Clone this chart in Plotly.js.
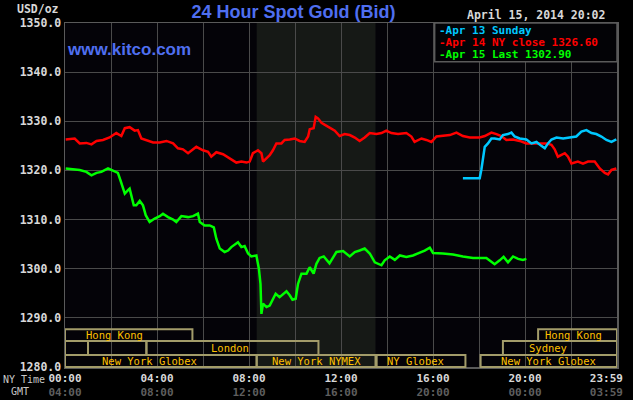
<!DOCTYPE html>
<html>
<head>
<meta charset="utf-8">
<script src="https://cdn.plot.ly/plotly-3.0.1.min.js"></script>
<style>html,body{margin:0;padding:0;background:#000;}#chart{width:633px;height:400px;}</style>
</head>
<body>
<div id="chart"></div>
<script>
// ---- data (NY time in hours, price USD/oz) ----
const redHours = [0.03,0.42,0.64,0.93,1.15,1.37,1.65,1.94,2.23,2.45,2.6,2.81,3.03,3.17,3.32,3.54,3.83,4.12,4.41,4.70,4.91,5.13,5.35,5.57,5.71,6.0,6.22,6.36,6.58,6.87,7.16,7.45,7.67,7.89,8.03,8.17,8.39,8.54,8.61,8.76,8.9,9.04,9.19,9.41,9.55,9.77,9.99,10.2,10.42,10.57,10.64,10.81,10.9,11.0,11.15,11.43,11.73,11.94,12.16,12.38,12.6,12.81,13.03,13.25,13.54,13.76,13.97,14.19,14.48,14.84,15.06,15.2,15.5,15.71,15.93,16.15,16.43,16.73,17.02,17.3,17.6,18.03,18.25,18.54,18.76,18.97,19.19,19.48,19.77,20.06,20.35,20.64,20.93,21.15,21.29,21.43,21.58,21.73,21.87,22.02,22.30,22.52,22.74,23.03,23.25,23.47,23.61,23.76,23.97];
const redPrices = [1326.3,1326.5,1325.5,1325.6,1325.3,1326.0,1326.2,1326.7,1327.6,1327.0,1328.6,1328.8,1328.1,1328.2,1326.5,1326.2,1325.7,1325.7,1326.0,1325.5,1324.5,1324.3,1323.5,1324.3,1324.8,1324.1,1323.8,1322.8,1323.7,1323.3,1322.4,1321.6,1321.8,1321.6,1321.8,1323.5,1324.1,1323.5,1321.8,1322.4,1323.1,1324.1,1325.5,1325.5,1326.2,1326.3,1326.5,1326.0,1325.8,1326.9,1328.4,1328.6,1330.9,1330.6,1329.7,1328.9,1328.1,1327.0,1327.4,1327.2,1326.7,1326.0,1326.7,1327.6,1327.4,1327.6,1328.1,1327.6,1327.4,1327.6,1326.9,1325.8,1326.5,1326.2,1325.8,1326.9,1327.0,1327.2,1327.7,1327.0,1326.7,1326.7,1327.0,1327.7,1327.4,1327.0,1326.2,1326.3,1326.0,1325.5,1325.5,1325.5,1325.5,1325.2,1324.3,1322.8,1323.1,1323.5,1322.8,1321.4,1321.8,1321.4,1321.8,1321.8,1320.4,1319.5,1319.2,1320.1,1320.4];

const cyanHours = [17.3,18.03,18.1,18.17,18.25,18.39,18.54,18.68,18.9,19.04,19.26,19.41,19.55,19.77,20.06,20.28,20.5,20.71,20.86,21.0,21.15,21.37,21.66,21.94,22.23,22.45,22.67,22.89,23.1,23.32,23.54,23.76,23.97];
const cyanPrices = [1318.4,1318.4,1320.1,1322.1,1324.8,1325.5,1326.5,1326.5,1326.3,1327.2,1327.4,1327.7,1326.9,1326.5,1326.3,1325.5,1325.8,1325.0,1324.5,1325.5,1326.3,1326.7,1326.5,1326.7,1326.9,1327.9,1328.2,1327.6,1327.4,1326.9,1326.2,1325.8,1326.3];

const greenHours = [0.03,0.35,0.64,0.93,1.15,1.37,1.58,1.87,2.09,2.3,2.41,2.6,2.74,2.81,2.99,3.1,3.25,3.39,3.51,3.68,3.9,4.12,4.26,4.48,4.7,4.84,5.06,5.35,5.57,5.78,5.86,6.07,6.29,6.47,6.58,6.73,6.94,7.09,7.23,7.52,7.67,7.81,7.96,8.1,8.32,8.43,8.5,8.54,8.61,8.76,8.9,9.04,9.16,9.33,9.48,9.63,9.77,9.89,10.03,10.13,10.28,10.5,10.64,10.81,10.93,11.07,11.25,11.5,11.8,12.09,12.38,12.6,12.81,13.03,13.25,13.47,13.76,13.9,14.12,14.34,14.56,14.84,15.13,15.42,15.64,15.86,16.0,16.43,16.87,17.3,17.74,18.32,18.54,18.68,18.9,19.07,19.26,19.48,19.7,19.91,20.06];
const greenPrices = [1320.4,1320.2,1320.1,1319.7,1319.0,1319.5,1319.7,1320.4,1319.9,1319.5,1318.0,1315.3,1316.0,1316.3,1312.9,1312.9,1313.8,1312.9,1310.9,1309.5,1310.2,1310.7,1311.2,1310.5,1310.0,1309.5,1310.7,1310.5,1310.7,1311.2,1309.5,1308.8,1308.8,1308.4,1306.1,1304.1,1303.4,1303.7,1304.4,1305.4,1304.4,1304.6,1303.1,1302.5,1302.7,1300.0,1296.9,1290.8,1292.9,1292.2,1292.5,1293.9,1294.9,1294.2,1294.8,1295.4,1294.6,1293.7,1293.9,1296.9,1299.0,1299.0,1300.3,1299.0,1301.0,1302.2,1302.5,1301.1,1303.4,1303.6,1302.5,1303.4,1303.7,1304.1,1303.1,1301.3,1300.7,1301.7,1302.5,1301.8,1302.7,1302.4,1302.7,1303.2,1303.7,1304.3,1303.2,1303.1,1302.9,1302.5,1302.2,1302.2,1301.3,1300.9,1301.7,1302.4,1301.3,1302.5,1302.0,1301.8,1302.0];

const seriesNames = ["Apr 13 Sunday", "Apr 14 NY close 1326.60", "Apr 15 Last 1302.90"];
const tickHours = [0,4,8,12,16,20,24];
const nyTickLabels = ["00:00","04:00","08:00","12:00","16:00","20:00","23:59"];
const gmtTickLabels = ["04:00","08:00","12:00","16:00","20:00","00:00","03:59"];
const yTicks = [1280,1290,1300,1310,1320,1330,1340,1350];

// trading sessions: [row, startHour, endHour, label, labelHour]
const sessions = [
  [0, 0, 5.54, "Hong Kong", 2.14],
  [0, 20.57, 24, "Hong Kong", 22.09],
  [1, 0, 1.0, "", 0],
  [1, 1.0, 3.54, "", 0],
  [1, 3.54, 11.02, "London", 7.16],
  [1, 19.04, 24, "Sydney", 21.02],
  [2, 0, 8.333, "New York Globex", 3.66],
  [2, 8.333, 13.5, "New York NYMEX", 10.92],
  [2, 13.55, 17.41, "NY Globex", 15.23],
  [2, 18.07, 24, "New York Globex", 21.0]
];
const nymexOpen = 8.333, nymexClose = 13.5;

// ---- styling ----
const MONO = "DejaVu Sans Mono, monospace";
const rowY = [[0.0756, 0.110], [0.0349, 0.0756], [0.0, 0.0349]];
const colors = ["#00c8ff", "#ff0000", "#00ff00"];

const traces = [
  {x: redHours, y: redPrices, xaxis: "x", yaxis: "y", mode: "lines", line: {color: colors[1], width: 2.5}, hoverinfo: "skip"},
  {x: cyanHours, y: cyanPrices, xaxis: "x", yaxis: "y", mode: "lines", line: {color: colors[0], width: 2.5}, hoverinfo: "skip"},
  {x: greenHours, y: greenPrices, xaxis: "x2", yaxis: "y", mode: "lines", line: {color: colors[2], width: 2.5}, hoverinfo: "skip"}
];

const shapes = [
  {type: "rect", xref: "x", yref: "paper", x0: nymexOpen, x1: nymexClose, y0: 0, y1: 1,
   fillcolor: "#161916", line: {width: 0}, layer: "below"},
  {type: "rect", xref: "paper", yref: "paper", x0: 0.6697, x1: 1.0, y0: 0.8875, y1: 1.0,
   fillcolor: "#030306", line: {color: "#5a5a5a", width: 1.5}, layer: "above"}
];
const annotations = [];
sessions.forEach(s => {
  const [row, a, b, label, lh] = s;
  shapes.push({type: "rect", xref: "x", yref: "paper", x0: a, x1: b, y0: rowY[row][0], y1: rowY[row][1],
    fillcolor: "rgba(0,0,0,0)", line: {color: "#a39c6a", width: 2}, layer: "above"});
  if (label) annotations.push({xref: "x", yref: "paper", x: lh, y: (rowY[row][0] + rowY[row][1]) / 2,
    text: label, showarrow: false, xanchor: "center", yanchor: "middle",
    font: {family: MONO, size: 10.5, color: "#ffc000"}});
});

const P = (px) => (px - 65) / 552;      // pixel x -> paper x
const Q = (py) => (367 - py) / 344;     // pixel y -> paper y

annotations.push(
  {xref: "paper", yref: "paper", x: P(61), y: Q(9), xanchor: "right", yanchor: "middle", showarrow: false,
   text: "USD/oz", font: {family: MONO, size: 11.5, color: "#d8d8d8", weight: "bold"}},
  {xref: "paper", yref: "paper", x: P(64.5), y: Q(49), xanchor: "left", yanchor: "middle", showarrow: false,
   text: "www.kitco.com", font: {family: "Liberation Sans, Arial, sans-serif", size: 17, color: "#4f6ff0", weight: "bold"}},
  {xref: "paper", yref: "paper", x: P(607), y: Q(15), xanchor: "right", yanchor: "middle", showarrow: false,
   text: "April 15, 2014 20:02", font: {family: MONO, size: 11.5, color: "#d8d8d8", weight: "bold"}},
  {xref: "paper", yref: "paper", x: P(1), y: Q(379), xanchor: "left", yanchor: "middle", showarrow: false,
   text: "NY Time", font: {family: MONO, size: 10, color: "#c8c8c8"}},
  {xref: "paper", yref: "paper", x: P(9), y: Q(392), xanchor: "left", yanchor: "middle", showarrow: false,
   text: "GMT", font: {family: MONO, size: 10, color: "#c8c8c8"}}
);
const legendY = [30.7, 42.5, 54.5];
seriesNames.forEach((n, i) => {
  annotations.push({xref: "paper", yref: "paper", x: P(438), y: Q(legendY[i]), xanchor: "left", yanchor: "middle",
    showarrow: false, borderpad: 0, text: "-" + n, font: {family: MONO, size: 11, color: colors[i], weight: "bold"}});
});

const tickVals = tickHours.map(h => h === 24 ? 23.54 : h);
const tickText = nyTickLabels.map((t, i) => t + "<br><span style='color:#5e5e5e'>" + gmtTickLabels[i] + "</span>");

const layout = {
  width: 633, height: 400,
  paper_bgcolor: "#000000", plot_bgcolor: "#040308",
  margin: {l: 65, r: 16, t: 23, b: 33},
  showlegend: false,
  title: {text: "24 Hour Spot Gold (Bid)", x: 293.5 / 633, xanchor: "center", xref: "container",
          y: 1 - 12 / 400, yanchor: "middle", yref: "container",
          font: {family: "Liberation Sans, Arial, sans-serif", size: 18, color: "#4f6ff0", weight: "bold"}},
  xaxis: {range: [0, 24], tick0: 0, dtick: 2, showgrid: true, gridcolor: "#4a4a4a", gridwidth: 1,
          showticklabels: false, ticks: "", zeroline: false, showline: true, linecolor: "#5a5a5a",
          linewidth: 1.5, mirror: true, fixedrange: true},
  xaxis2: {range: [0, 24], overlaying: "x", anchor: "y", side: "bottom", tickmode: "array",
           tickvals: tickVals, ticktext: tickText, showgrid: false, zeroline: false, ticks: "",
           ticklabelstandoff: 3,
           showline: false, tickfont: {family: MONO, size: 11, color: "#d8d8d8", weight: "bold"}, fixedrange: true},
  yaxis: {range: [1280, 1350], tickmode: "array", tickvals: yTicks, tickformat: ".1f", showgrid: true,
          gridcolor: "#4a4a4a", gridwidth: 1, zeroline: false, showline: true, linecolor: "#5a5a5a",
          linewidth: 1.5, mirror: true, ticks: "", tickfont: {family: MONO, size: 11.5, color: "#d8d8d8", weight: "bold"},
          fixedrange: true},
  shapes: shapes,
  annotations: annotations
};

Plotly.newPlot("chart", traces, layout, {displayModeBar: false, staticPlot: true});
</script>
</body>
</html>
